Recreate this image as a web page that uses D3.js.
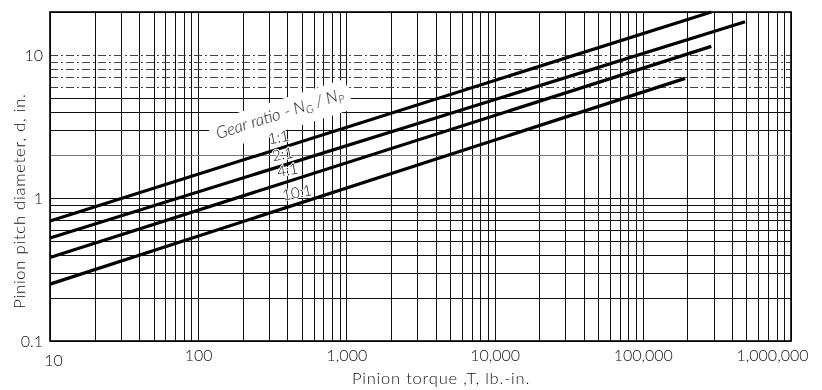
<!DOCTYPE html>
<html>
<head>
<meta charset="utf-8">
<script src="https://cdn.jsdelivr.net/npm/d3@7"></script>
<style>
  body { margin: 0; background: #fff; }
  svg { display: block; filter: grayscale(1); }
  text { font-family: Lato, "Open Sans", "DejaVu Sans", sans-serif; font-weight: 300; fill: #111; }
</style>
</head>
<body>
<svg id="chart" width="822" height="390"></svg>
<script>
// Pinion pitch diameter versus pinion torque, one straight log-log line per gear ratio
const torqueTicks = [10, 100, 1000, 10000, 100000, 1000000];
const torqueTickLabels = ["10", "100", "1,000", "10,000", "100,000", "1,000,000"];
const diameterTicks = [0.1, 1, 10];
const diameterTickLabels = ["0.1", "1", "10"];
const ratioNames = ["1:1", "2:1", "4:1", "10:1"];
// each line as [torque (lb-in), diameter (in)] at its two ends
const ratio1to1 = [[10, 0.69], [290000, 20]];
const ratio2to1 = [[10, 0.525], [490000, 17.1]];
const ratio4to1 = [[10, 0.384], [290000, 11.5]];
const ratio10to1 = [[10, 0.25], [193000, 6.87]];
const ratioLines = [ratio1to1, ratio2to1, ratio4to1, ratio10to1];

const svg = d3.select("#chart");
const plotLeft = 50, plotRight = 791, plotTop = 12, plotBottom = 341;

const x = d3.scaleLog().domain([10, 1e6]).range([plotLeft, plotRight]);
const y = d3.scaleLog().domain([0.1, 20]).range([plotBottom, plotTop]);

// log grid values: 1..9 times each power of ten inside the domain
const gridX = [];
for (let p = 1; p <= 5; p++) for (let k = 1; k <= 9; k++) gridX.push(k * Math.pow(10, p));
gridX.push(1e6);
const gridY = [];
for (let p = -1; p <= 0; p++) for (let k = 1; k <= 9; k++) gridY.push(+(k * Math.pow(10, p)).toFixed(2));
gridY.push(10, 20);

const grid = svg.append("g").attr("shape-rendering", "crispEdges");
grid.selectAll("line.v").data(gridX).join("line")
  .attr("class", "v")
  .attr("x1", d => Math.round(x(d)) + 0.5).attr("x2", d => Math.round(x(d)) + 0.5)
  .attr("y1", plotTop).attr("y2", plotBottom)
  .attr("stroke", "#111").attr("stroke-width", 1);
grid.selectAll("line.h").data(gridY).join("line")
  .attr("class", "h")
  .attr("x1", plotLeft).attr("x2", plotRight)
  .attr("y1", d => Math.round(y(d)) + 0.5).attr("y2", d => Math.round(y(d)) + 0.5)
  .attr("stroke", d => (d >= 6 && d <= 10) ? "#444" : (d === 2 ? "#777" : "#111"))
  .attr("stroke-width", 1)
  .attr("stroke-dasharray", d => (d >= 6 && d <= 10) ? "8,3,2,3" : null);

// plot frame
svg.append("rect")
  .attr("x", plotLeft).attr("y", plotTop)
  .attr("width", plotRight - plotLeft).attr("height", plotBottom - plotTop)
  .attr("fill", "none").attr("stroke", "#000").attr("stroke-width", 1.6);

// gear ratio lines
const line = d3.line().x(d => x(d[0])).y(d => y(d[1]));
svg.append("g").selectAll("path").data(ratioLines).join("path")
  .attr("d", line)
  .attr("fill", "none").attr("stroke", "#000").attr("stroke-width", 3.2)
  .attr("stroke-linecap", "butt");

// slope of the lines on the page, used to tilt the annotations
const angle = Math.atan2(y(ratio1to1[1][1]) - y(ratio1to1[0][1]), x(ratio1to1[1][0]) - x(ratio1to1[0][0])) * 180 / Math.PI;

// "Gear ratio - NG/NP" annotation on a white band
const gx = 218, gy = 139;
const gLabel = svg.append("g").attr("transform", `translate(${gx},${gy}) rotate(${angle})`);
const gBand = gLabel.append("rect").attr("fill", "#fff");
const gText = gLabel.append("text")
  .attr("font-size", 16.5).attr("font-style", "italic");
gText.append("tspan").text("Gear ratio - N");
gText.append("tspan").attr("font-size", 11).attr("dy", 3).text("G");
gText.append("tspan").attr("dy", -3).text(" / N");
gText.append("tspan").attr("font-size", 11).attr("dy", 3).text("P");
const bb = gText.node().getBBox();
gBand.attr("x", bb.x - 6).attr("y", bb.y - 3).attr("width", bb.width + 12).attr("height", bb.height + 10);

// ratio labels, just above each line
const ratioLabelAt = [350, 373, 403, 466];
ratioLines.forEach((pts, i) => {
  const t = ratioLabelAt[i];
  const slope = Math.log(pts[1][1] / pts[0][1]) / Math.log(pts[1][0] / pts[0][0]);
  const d = pts[0][1] * Math.pow(t / pts[0][0], slope);
  svg.append("text")
    .attr("transform", `translate(${x(t)},${y(d) - 10}) rotate(${angle * 0.6})`)
    .attr("text-anchor", "middle").attr("dominant-baseline", "middle")
    .attr("font-size", 15).attr("font-weight", 400)
    .attr("stroke", "#fff").attr("stroke-width", 2).attr("paint-order", "stroke")
    .text(ratioNames[i]);
});

// axes
const xAxis = svg.append("g").attr("transform", `translate(0,${plotBottom})`)
  .call(d3.axisBottom(x).tickValues(torqueTicks).tickFormat((d, i) => torqueTickLabels[i]).tickSize(0).tickPadding(9));
xAxis.select(".domain").remove();
xAxis.selectAll("text").attr("font-size", 16).attr("fill", "#111")
  .attr("font-family", 'Lato, "Open Sans", sans-serif');
xAxis.selectAll(".tick").filter(d => d === 1e6).select("text").attr("text-anchor", "end").attr("dx", 17);
xAxis.selectAll(".tick").filter(d => d === 10).select("text").attr("dx", 3).attr("dy", "1em");

const yAxis = svg.append("g").attr("transform", `translate(${plotLeft},0)`)
  .call(d3.axisLeft(y).tickValues(diameterTicks).tickFormat((d, i) => diameterTickLabels[i]).tickSize(0).tickPadding(7));
yAxis.select(".domain").remove();
yAxis.selectAll("text").attr("font-size", 16).attr("fill", "#111")
  .attr("font-family", 'Lato, "Open Sans", sans-serif');

// axis titles
svg.append("text")
  .attr("x", 441).attr("y", 384).attr("text-anchor", "middle")
  .attr("font-size", 16.5).attr("letter-spacing", 0.8).text("Pinion torque ,T, lb.-in.");
svg.append("text")
  .attr("transform", "translate(25,201) rotate(-90)").attr("text-anchor", "middle")
  .attr("font-size", 16.5).attr("letter-spacing", 0.8).text("Pinion pitch diameter, d, in.");
</script>
</body>
</html>
